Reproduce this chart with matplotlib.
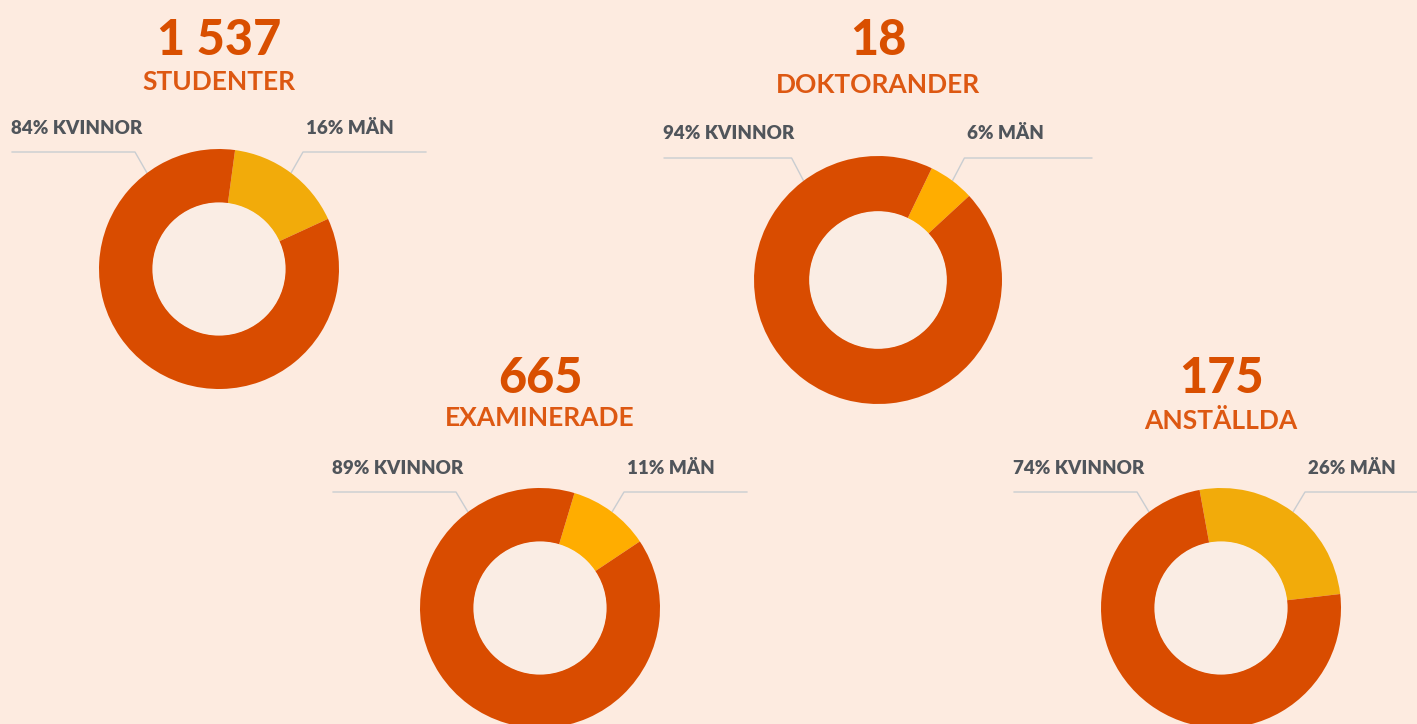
import matplotlib
matplotlib.use("Agg")
import matplotlib.pyplot as plt
from matplotlib.patches import Circle
import numpy as np

# -----------------------------
# Data
# -----------------------------
categories = ["STUDENTER", "DOKTORANDER", "EXAMINERADE", "ANSTÄLLDA"]
totals = [1537, 18, 665, 175]
women_pct = [84, 94, 89, 74]
men_pct = [16, 6, 11, 26]

# -----------------------------
# Layout (pixels) and style
# -----------------------------
W, H = 1417, 724
centers = [(219, 269), (878, 280), (540, 608), (1221, 608)]
radii = [120, 124, 120, 120]
number_y = [55, 55, 393, 393]
title_y = [90, 93, 426, 429]
label_y = [134, 139, 474, 474]
line_y = [152, 158, 492, 492]

bg = "#FDEBE0"
hole = "#FAEDE4"
orange = "#D94C00"
yellows = ["#F2AB0A", "#FFAD00", "#FFAD00", "#F2AB0A"]
title_col = "#D94F00"
sub_col = "#DD5812"
label_col = "#50555B"
line_col = "#C9CDD1"

plt.rcParams["font.family"] = ["Lato", "DejaVu Sans"]

fig = plt.figure(figsize=(W / 100, H / 100), dpi=100)
fig.patch.set_facecolor(bg)

ax_bg = fig.add_axes([0, 0, 1, 1])
ax_bg.set_xlim(0, W)
ax_bg.set_ylim(H, 0)
ax_bg.axis("off")


def fmt(n):
    return f"{n:,}".replace(",", " ")


for i, cat in enumerate(categories):
    cx, cy = centers[i]
    r = radii[i]

    # headline number + category
    ax_bg.text(cx, number_y[i], fmt(totals[i]), ha="center", va="baseline",
               fontsize=35, fontweight="black", color=title_col)
    ax_bg.text(cx, title_y[i], cat, ha="center", va="baseline",
               fontsize=19, fontweight="bold", color=sub_col)

    # leader lines
    span = 1.73 * r
    lx_end, ly_end = cx - 0.6 * r, cy - 0.8 * r
    rx_end = cx + 0.6 * r
    ax_bg.plot([cx - span, lx_end - 12, lx_end], [line_y[i], line_y[i], ly_end],
               color=line_col, lw=1.0, solid_capstyle="butt")
    ax_bg.plot([rx_end, rx_end + 12, cx + span], [ly_end, line_y[i], line_y[i]],
               color=line_col, lw=1.0, solid_capstyle="butt")

    # labels
    ax_bg.text(cx - span, label_y[i], f"{women_pct[i]}% KVINNOR", ha="left",
               va="baseline", fontsize=13.5, fontweight="heavy", color=label_col)
    ax_bg.text(rx_end + 15, label_y[i], f"{men_pct[i]}% MÄN", ha="left",
               va="baseline", fontsize=13.5, fontweight="heavy", color=label_col)

    # donut
    ax = fig.add_axes([(cx - r) / W, (H - cy - r) / H, 2 * r / W, 2 * r / H])
    ax.patch.set_alpha(0)
    start_cw = 36.5 - men_pct[i] * 1.8
    ax.pie([men_pct[i], women_pct[i]], colors=[yellows[i], orange],
           startangle=90 - start_cw, counterclock=False, radius=1,
           wedgeprops=dict(width=0.45, linewidth=0))
    ax.add_patch(Circle((0, 0), 0.555, facecolor=hole, edgecolor="none"))
    ax.set_xlim(-1, 1)
    ax.set_ylim(-1, 1)
    ax.axis("off")

fig.savefig("out.png", dpi=100, facecolor=bg)
